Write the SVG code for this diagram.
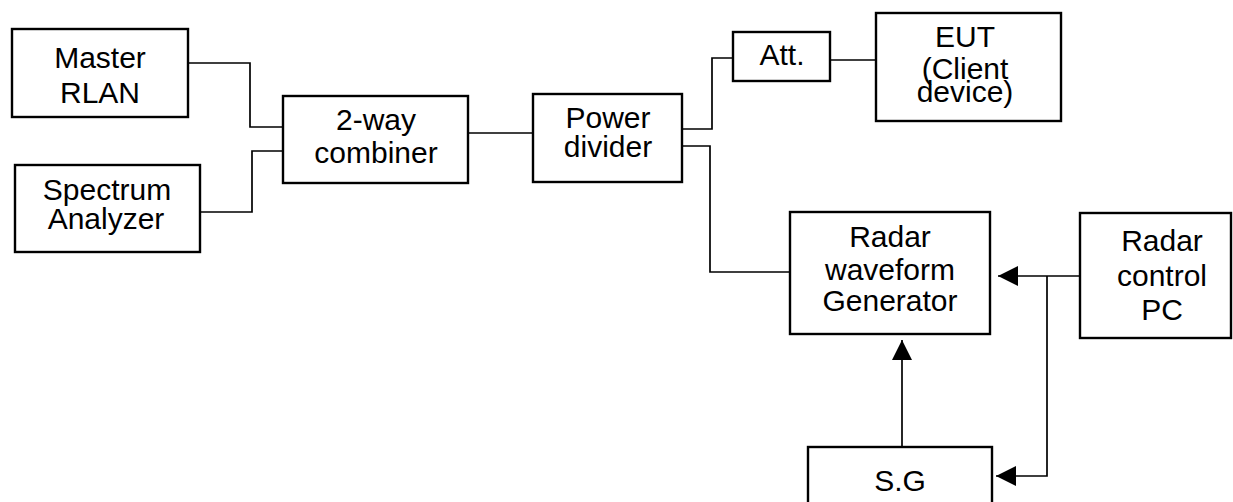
<svg xmlns="http://www.w3.org/2000/svg" width="1233" height="502" viewBox="0 0 1233 502">
<style>
.box{fill:#fff;stroke:#000;stroke-width:2.4}
.ln{fill:none;stroke:#000;stroke-width:1.7}
text{font-family:"Liberation Sans",Arial,sans-serif;font-size:30px;fill:#000;text-anchor:middle}
</style>
<defs>
<marker id="ah" markerWidth="20" markerHeight="20" refX="20" refY="10" orient="auto" markerUnits="userSpaceOnUse">
<path d="M0,0 L20,10 L0,20 Z" fill="#000"/>
</marker>
</defs>
<rect width="1233" height="502" fill="#fff"/>
<g id="connectors">
<path class="ln" d="M188,63 H250 V127 H283"/>
<path class="ln" d="M200,212 H252 V151 H283"/>
<path class="ln" d="M468,133 H533"/>
<path class="ln" d="M682,129 H712 V58 H733"/>
<path class="ln" d="M830,60 H876"/>
<path class="ln" d="M682,146 H710 V272 H790"/>
<path class="ln" d="M1080,276 H998" marker-end="url(#ah)"/>
<path class="ln" d="M1047,276 V476 H996" marker-end="url(#ah)"/>
<path class="ln" d="M902,447 V340" marker-end="url(#ah)"/>
</g>
<g id="master-rlan"><rect class="box" x="12" y="29" width="176" height="88"/><text x="100" y="68">Master</text><text x="100" y="103">RLAN</text></g>
<g id="spectrum-analyzer"><rect class="box" x="15" y="165" width="185" height="87"/><text x="107" y="200">Spectrum</text><text x="106" y="229">Analyzer</text></g>
<g id="combiner"><rect class="box" x="283" y="96" width="185" height="87"/><text x="376" y="130">2-way</text><text x="376" y="163">combiner</text></g>
<g id="power-divider"><rect class="box" x="533" y="94" width="149" height="88"/><text x="608" y="128">Power</text><text x="608" y="157">divider</text></g>
<g id="att"><rect class="box" x="733" y="32" width="97" height="49"/><text x="782" y="65">Att.</text></g>
<g id="eut"><rect class="box" x="876" y="13" width="185" height="108"/><text x="965" y="47">EUT</text><text x="965" y="79">(Client</text><text x="965" y="102">device)</text></g>
<g id="radar-waveform-generator"><rect class="box" x="790" y="212" width="200" height="122"/><text x="890" y="247">Radar</text><text x="890" y="280">waveform</text><text x="890" y="311">Generator</text></g>
<g id="radar-control-pc"><rect class="box" x="1080" y="213" width="151" height="125"/><text x="1162" y="251">Radar</text><text x="1162" y="286">control</text><text x="1162" y="320">PC</text></g>
<g id="sg"><rect class="box" x="808" y="447" width="184" height="70"/><text x="900" y="491">S.G</text></g>
</svg>
